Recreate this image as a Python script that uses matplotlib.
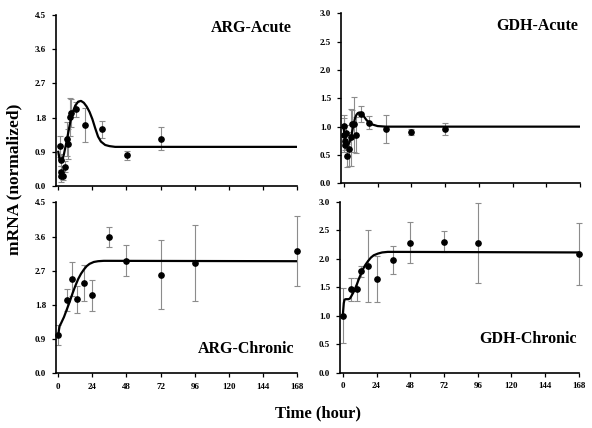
import matplotlib
matplotlib.use("Agg")
import matplotlib.pyplot as plt

plt.rcParams['font.family'] = ['Liberation Serif', 'DejaVu Serif']
plt.rcParams['font.weight'] = 'bold'

# ARG - acute: measured points (hour, value, sd)
arg_ac_t = [0.9, 1.6, 2.1, 2.1, 3.3, 4.9, 6.1, 6.5, 7.9, 9.1, 12.6, 18.9, 30.8, 48.5, 72.6]
arg_ac_v = [1.04, 0.68, 0.38, 0.26, 0.26, 0.51, 1.23, 1.10, 1.81, 1.91, 2.02, 1.60, 1.49, 0.81, 1.25]
arg_ac_e = [0.27, 0.15, 0.15, 0.15, 0.10, 0.15, 0.45, 0.40, 0.50, 0.37, 0.20, 0.44, 0.22, 0.12, 0.29]
# ARG - acute: model curve
arg_ac_ct = [0, 1, 2, 3, 4, 5, 6, 7, 8, 9, 10, 12, 14, 16, 18, 20, 22, 24, 26, 28, 30, 33, 36, 40, 168]
arg_ac_cv = [0.90, 0.68, 0.65, 0.70, 0.84, 1.02, 1.20, 1.40, 1.60, 1.78, 1.93, 2.12, 2.22, 2.24, 2.19,
             2.09, 1.95, 1.76, 1.52, 1.30, 1.17, 1.08, 1.05, 1.03, 1.03]

# GDH - acute
gdh_ac_t = [0, 0, 0.5, 1, 1.5, 2.1, 4, 5.2, 6, 7, 8.5, 12.3, 18.2, 30, 47.8, 72.2]
gdh_ac_v = [1.01, 0.86, 0.75, 0.68, 0.88, 0.49, 0.61, 0.81, 1.05, 1.04, 0.85, 1.23, 1.07, 0.96, 0.90, 0.96]
gdh_ac_e = [0.20, 0.30, 0.10, 0.10, 0.15, 0.20, 0.30, 0.50, 0.25, 0.48, 0.32, 0.14, 0.11, 0.24, 0.05, 0.11]
gdh_ac_ct = [0, 1, 2, 3, 4, 5, 6, 7, 8, 9, 10, 11, 12, 14, 16, 18, 20, 24, 30, 168]
gdh_ac_cv = [0.95, 0.75, 0.68, 0.68, 0.72, 0.80, 0.92, 1.05, 1.15, 1.21, 1.24, 1.25, 1.24, 1.19,
             1.12, 1.07, 1.04, 1.01, 1.00, 1.00]

# ARG - chronic
arg_ch_t = [0, 6, 10, 13, 18, 24, 36, 48, 72, 96, 168]
arg_ch_v = [1.01, 1.93, 2.48, 1.95, 2.37, 2.05, 3.58, 2.96, 2.60, 2.89, 3.22]
arg_ch_e = [0.26, 0.29, 0.45, 0.35, 0.48, 0.40, 0.26, 0.41, 0.90, 1.00, 0.91]
arg_ch_ct = [0, 0.5, 1, 2, 4, 6, 8, 10, 12, 14, 16, 18, 20, 22, 25, 28, 32, 168]
arg_ch_cv = [1.00, 1.15, 1.25, 1.32, 1.48, 1.68, 1.88, 2.10, 2.30, 2.48, 2.62, 2.73, 2.82, 2.88,
             2.93, 2.95, 2.96, 2.95]

# GDH - chronic
gdh_ch_t = [0, 6, 10, 13, 18, 24, 36, 48, 72, 96, 168]
gdh_ch_v = [1.00, 1.46, 1.46, 1.78, 1.87, 1.64, 1.98, 2.28, 2.30, 2.28, 2.08]
gdh_ch_e = [0.48, 0.20, 0.20, 0.10, 0.63, 0.40, 0.24, 0.36, 0.18, 0.70, 0.54]
gdh_ch_ct = [0, 0.3, 0.7, 1.2, 2, 4, 5, 6, 8, 10, 12, 14, 16, 18, 20, 22, 25, 28, 32, 168]
gdh_ch_cv = [1.00, 1.10, 1.22, 1.28, 1.29, 1.29, 1.30, 1.34, 1.43, 1.55, 1.68, 1.80, 1.89, 1.96,
             2.02, 2.06, 2.09, 2.11, 2.12, 2.11]

x_ticks = [0, 24, 48, 72, 96, 120, 144, 168]

fig = plt.figure(figsize=(5.92, 4.28), dpi=100)

panels = [
    # position, data, curve, yticks, title, title pos, xlabels shown, xlim left
    ([0.0946, 0.5654, 0.4071, 0.3995], (arg_ac_t, arg_ac_v, arg_ac_e), (arg_ac_ct, arg_ac_cv),
     [0.0, 0.9, 1.8, 2.7, 3.6, 4.5], 'ARG-Acute', (0.98, 0.97, 'top'), False, -1.6),
    ([0.5760, 0.5717, 0.4042, 0.3972], (gdh_ac_t, gdh_ac_v, gdh_ac_e), (gdh_ac_ct, gdh_ac_cv),
     [0.0, 0.5, 1.0, 1.5, 2.0, 2.5, 3.0], 'GDH-Acute', (0.99, 0.97, 'top'), False, -2.0),
    ([0.0946, 0.1278, 0.4071, 0.3995], (arg_ch_t, arg_ch_v, arg_ch_e), (arg_ch_ct, arg_ch_cv),
     [0.0, 0.9, 1.8, 2.7, 3.6, 4.5], 'ARG-Chronic', (0.99, 0.095, 'bottom'), True, -1.6),
    ([0.5743, 0.1292, 0.4037, 0.3995], (gdh_ch_t, gdh_ch_v, gdh_ch_e), (gdh_ch_ct, gdh_ch_cv),
     [0.0, 0.5, 1.0, 1.5, 2.0, 2.5, 3.0], 'GDH-Chronic', (0.99, 0.153, 'bottom'), True, -2.0),
]

for pos, (t, v, e), (ct, cv), yt, title, (tx, ty, tva), xlab, x0 in panels:
    ax = fig.add_axes(pos)
    eb = ax.errorbar(t, v, yerr=e, fmt='none', ecolor='#8c8c8c', elinewidth=0.8,
                     capsize=2.2, capthick=0.8, zorder=2)
    for art in eb.lines[1] + eb.lines[2]:
        art.set_clip_on(False)
    ax.plot(ct, cv, color='black', lw=1.6, zorder=3)
    ax.plot(t, v, 'o', color='black', ms=3.8, zorder=4, clip_on=False)
    ax.set_xlim(x0, 168)
    ax.set_ylim(yt[0], yt[-1])
    ax.set_yticks(yt)
    ax.set_yticklabels(['%.1f' % y for y in yt])
    ax.set_xticks(x_ticks)
    if xlab:
        ax.set_xticklabels([str(x) for x in x_ticks])
    else:
        ax.set_xticklabels([])
    for s in ['top', 'right']:
        ax.spines[s].set_visible(False)
    for s in ['left', 'bottom']:
        ax.spines[s].set_linewidth(1.2)
    ax.tick_params(direction='out', length=3, width=0.9, labelsize=6.5, pad=4)
    ax.text(tx, ty, title, transform=ax.transAxes, ha='right', va=tva,
            fontsize=11.5, fontweight='bold')

fig.text(0.025, 0.58, 'mRNA (normalized)', rotation=90, ha='center', va='center',
         fontsize=12.5, fontweight='bold')
fig.text(0.537, 0.033, 'Time (hour)', ha='center', va='center',
         fontsize=12, fontweight='bold')

fig.savefig('out.png', dpi=100)
